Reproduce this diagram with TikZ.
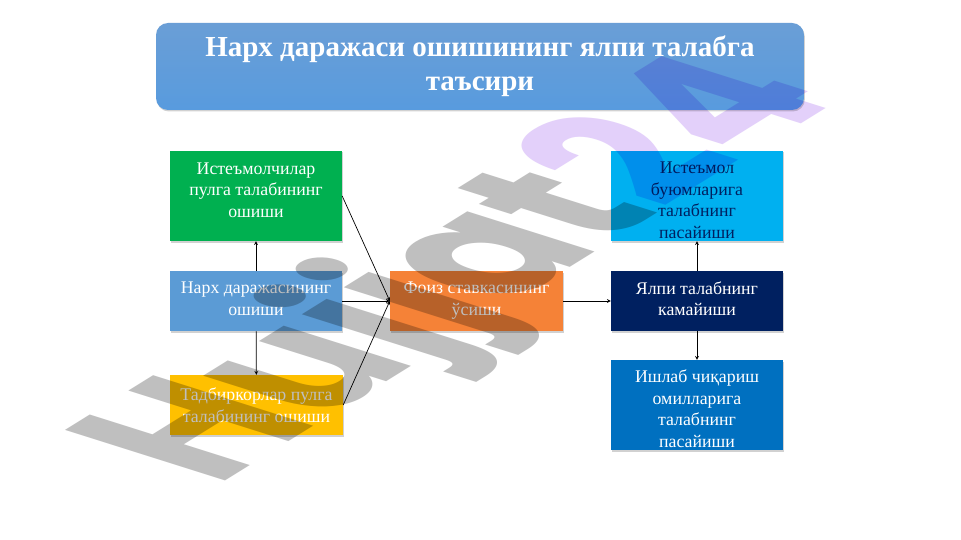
\documentclass[tikz,border=0pt]{standalone}
\usepackage{fontspec}
\setmainfont{Liberation Serif}
\newfontfamily\stampfont{Poppins}
\usetikzlibrary{shadows}
\definecolor{stampgrey}{HTML}{BFBFBF}
\definecolor{stamplilac}{HTML}{E3D0FA}
\tikzset{
    flowbox/.style={draw=none,text=white,minimum width=172pt,align=center,inner sep=0pt,
        font=\fontsize{17.8}{21.7}\selectfont,
        drop shadow={shadow xshift=0.8pt,shadow yshift=-1.5pt,opacity=0.18,fill=black}},
    flowline/.style={-stealth,line width=0.7pt,black},
}
\begin{document}
\begin{tikzpicture}[x=1pt,y=-1pt]
    \useasboundingbox (0,0) rectangle (961,540);
    \fill[white] (0,0) rectangle (961,540);
    \node[flowbox,minimum width=648pt,minimum height=87pt,rounded corners=12pt,
        top color={rgb,255:red,106;green,158;blue,214},bottom color={rgb,255:red,88;green,155;blue,222},
        font=\fontsize{29}{34}\selectfont\bfseries] (title) at (480,66.5)
        {Нарх даражаси ошишининг ялпи талабга\\таъсири};
    % left column
    \node[flowbox,minimum height=90pt,fill={rgb,255:red,0;green,176;blue,80}] (consumers) at (256,196)
        {Истеъмолчилар\\пулга талабининг\\\rule[-12pt]{0pt}{0pt}ошиши};
    \node[flowbox,minimum height=60pt,fill={rgb,255:red,91;green,155;blue,213}] (prices) at (256,301)
        {Нарх даражасининг\\\rule[-5pt]{0pt}{0pt}ошиши};
    \node[flowbox,minimum width=173pt,minimum height=60pt,fill={rgb,255:red,255;green,192;blue,0}] (firms) at (256.5,405)
        {Тадбиркорлар пулга\\талабининг ошиши};
    % middle and right column
    \node[flowbox,minimum width=173pt,minimum height=60pt,fill={rgb,255:red,245;green,130;blue,55}] (rate) at (476.5,301)
        {Фоиз ставкасининг\\\rule[-5pt]{0pt}{0pt}ўсиши};
    \node[flowbox,minimum height=90pt,fill={rgb,255:red,0;green,176;blue,240},text={rgb,255:red,0;green,32;blue,96}] (goods) at (697,196)
        {\rule{0pt}{20pt}Истеъмол\\буюмларига\\талабнинг\\пасайиши};
    \node[flowbox,minimum height=60pt,fill={rgb,255:red,0;green,32;blue,96}] (demand) at (697,301)
        {Ялпи талабнинг\\\rule[-5pt]{0pt}{0pt}камайиши};
    \node[flowbox,minimum height=90pt,fill={rgb,255:red,0;green,112;blue,192}] (factors) at (697,405)
        {\rule{0pt}{20pt}Ишлаб чиқариш\\омилларига\\талабнинг\\пасайиши};
    % connectors
    \draw[flowline] (prices) -- (consumers);
    \draw[flowline] (prices) -- (firms);
    \draw[flowline] (consumers.east) -- (rate.west);
    \draw[flowline] (prices.east) -- (rate.west);
    \draw[flowline] (firms.east) -- (rate.west);
    \draw[flowline] (rate) -- (demand);
    \draw[flowline] (demand) -- (goods);
    \draw[flowline] (demand) -- (factors);
    % stamp across the slide
    \begin{scope}[blend mode=multiply,cm={1.45,0.9,-2.28,0.72,(216,487)}]
        \node[transform shape,anchor=base west,inner sep=0pt,text=stampgrey,font=\fontsize{100}{100}\selectfont\stampfont\bfseries] (stamp) at (0,0)
            {Hujjat\textcolor{stamplilac}{24}};
    \end{scope}
\end{tikzpicture}
\end{document}
